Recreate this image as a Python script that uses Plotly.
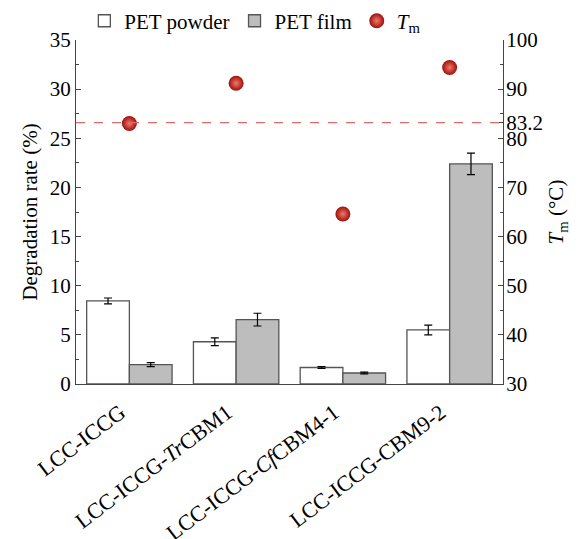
import plotly.graph_objects as go

categories = ["LCC-ICCG", "LCC-ICCG-<i>Tr</i>CBM1", "LCC-ICCG-<i>Cf</i>CBM4-1", "LCC-ICCG-CBM9-2"]
powder = [8.45, 4.3, 1.68, 5.5]
powder_err = [0.3, 0.4, 0.1, 0.5]
film = [1.97, 6.55, 1.12, 22.4]
film_err = [0.2, 0.65, 0.08, 1.1]
tm = [83.0, 91.2, 64.6, 94.4]
TM_REF = 83.2

left_ticks = [0, 5, 10, 15, 20, 25, 30, 35]
right_ticks = [30, 40, 50, 60, 70, 80, TM_REF, 90, 100]
right_ticktext = ["30", "40", "50", "60", "70", "80", "83.2", "90", "100"]

FONT = "Liberation Serif"
AX = "#444444"

fig = go.Figure()
fig.add_trace(go.Bar(
    x=categories, y=powder, name="PET powder",
    marker=dict(color="white", line=dict(color="#555555", width=1.3)),
    error_y=dict(type="data", array=powder_err, color="black", thickness=1.2, width=4),
))
fig.add_trace(go.Bar(
    x=categories, y=film, name="PET film",
    marker=dict(color="#bdbdbd", line=dict(color="#555555", width=1.3)),
    error_y=dict(type="data", array=film_err, color="black", thickness=1.2, width=4),
))
fig.add_trace(go.Scatter(
    x=categories, y=tm, name="<i>T</i><sub>m</sub>", yaxis="y2", mode="markers",
    marker=dict(size=15, color="#9e0f0c",
                gradient=dict(type="radial", color="#f07a68"),
                line=dict(width=0)),
))

fig.add_shape(type="line", xref="paper", yref="y2", x0=0, x1=1, y0=TM_REF, y1=TM_REF,
              line=dict(color="#e06a6a", width=1.3, dash="dash"))

fig.update_layout(
    width=578, height=531,
    margin=dict(l=68, r=83, t=32, b=155, autoexpand=False),
    paper_bgcolor="white", plot_bgcolor="white",
    font=dict(family=FONT, size=21, color="black"),
    barmode="group", bargap=0.2, bargroupgap=0,
    showlegend=True,
    legend=dict(orientation="h", x=0.42, xanchor="center", y=1.055, yanchor="middle",
                font=dict(size=21, family=FONT), itemwidth=30, tracegroupgap=0,
                bgcolor="rgba(0,0,0,0)"),
    xaxis=dict(range=[-0.5, 3.5], showline=True, linecolor=AX, linewidth=1.3,
               ticks="", tickangle=-37, tickfont=dict(size=22, family=FONT),
               ticklabelshift=-9, ticklabelstandoff=6, automargin=False,
               showgrid=False, zeroline=False),
    yaxis=dict(range=[0, 35], tickvals=left_ticks, showline=True, linecolor=AX, linewidth=1.3,
               ticks="inside", ticklen=5, tickcolor=AX, tickfont=dict(size=21), automargin=False,
               minor=dict(dtick=2.5, ticks="inside", ticklen=3, tickcolor=AX),
               showgrid=False, zeroline=False,
               title=dict(text="Degradation rate (%)", font=dict(size=21, family=FONT), standoff=6)),
    yaxis2=dict(range=[30, 100], overlaying="y", side="right", tickvals=right_ticks,
                ticktext=right_ticktext, showline=True, linecolor=AX, linewidth=1.3,
                ticks="inside", ticklen=5, tickcolor=AX, tickfont=dict(size=21),
                ticklabelstandoff=-2, automargin=False,
                minor=dict(tickvals=[35, 45, 55, 65, 75, 85, 95], ticks="inside", ticklen=3, tickcolor=AX),
                showgrid=False, zeroline=False,
                title=dict(text="<i>T</i><sub>m</sub> (°C)", font=dict(size=21, family=FONT), standoff=6)),
)

fig.write_html("out.html")
